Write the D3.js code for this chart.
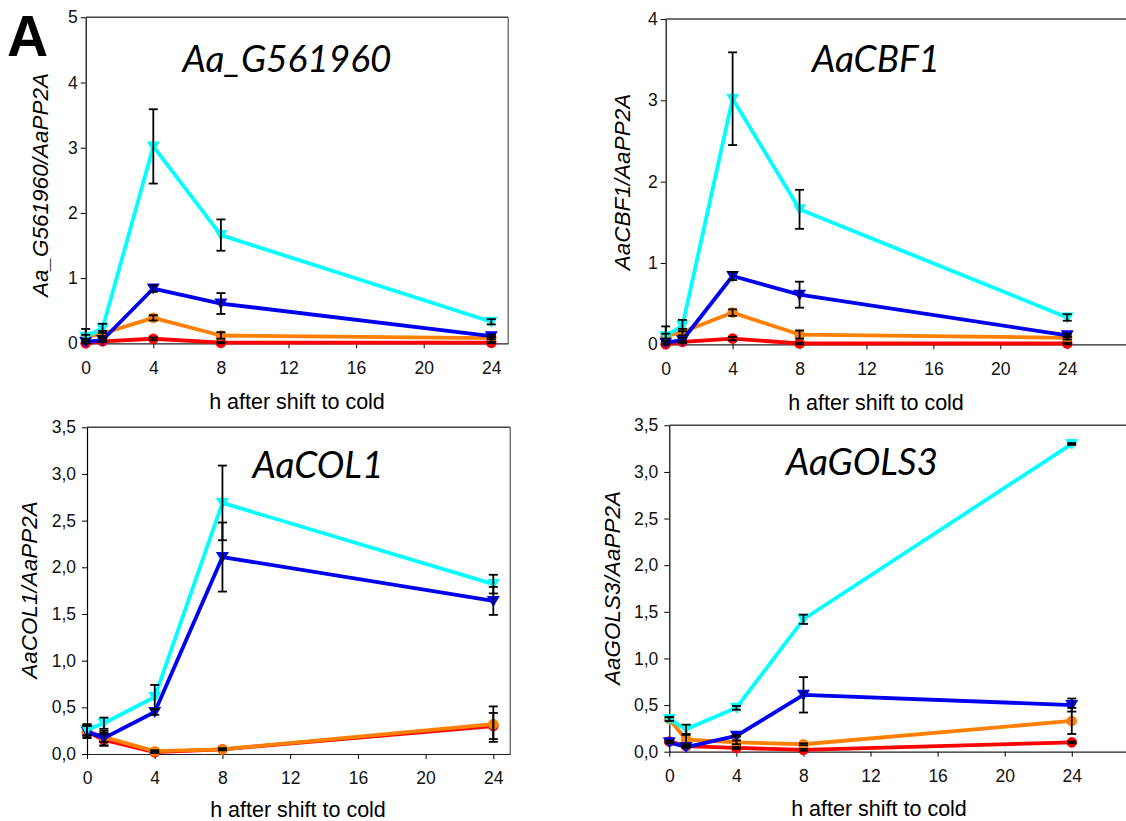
<!DOCTYPE html>
<html>
<head>
<meta charset="utf-8">
<script src="https://cdn.jsdelivr.net/npm/d3@7"></script>
<style>
  body { margin: 0; background: #fff; }
  svg { display: block; }
  .tick text { font-family: "Liberation Sans", Arial, sans-serif; font-size: 17.5px; fill: #111; }
</style>
</head>
<body>
<div id="figure"></div>
<script>
//Time points (h after shift to cold)
const hours = [0, 1, 4, 8, 24];
const xTicks = [0, 4, 8, 12, 16, 20, 24];

//Aa_G561960
const g561960_red = [0.00, 0.03, 0.07, 0.01, 0.01];
const g561960_redErr = [0.01, 0.01, 0.02, 0.01, 0.01];
const g561960_orange = [0.10, 0.15, 0.39, 0.12, 0.08];
const g561960_orangeErr = [0.03, 0.04, 0.04, 0.05, 0.02];
const g561960_blue = [0.02, 0.05, 0.84, 0.61, 0.11];
const g561960_blueErr = [0.02, 0.03, 0.05, 0.16, 0.02];
const g561960_cyan = [0.10, 0.23, 3.02, 1.66, 0.33];
const g561960_cyanErr = [0.12, 0.07, 0.57, 0.24, 0.04];

//AaCBF1
const cbf1_red = [0.00, 0.03, 0.07, 0.01, 0.01];
const cbf1_redErr = [0.01, 0.01, 0.02, 0.01, 0.01];
const cbf1_orange = [0.10, 0.15, 0.39, 0.12, 0.08];
const cbf1_orangeErr = [0.03, 0.04, 0.04, 0.05, 0.02];
const cbf1_blue = [0.02, 0.05, 0.84, 0.61, 0.11];
const cbf1_blueErr = [0.02, 0.03, 0.05, 0.16, 0.02];
const cbf1_cyan = [0.10, 0.23, 3.02, 1.66, 0.33];
const cbf1_cyanErr = [0.12, 0.07, 0.57, 0.24, 0.04];

//AaCOL1
const col1_red = [0.24, 0.15, 0.02, 0.05, 0.30];
const col1_redErr = [0.06, 0.06, 0.01, 0.01, 0.14];
const col1_orange = [0.25, 0.18, 0.03, 0.05, 0.32];
const col1_orangeErr = [0.05, 0.05, 0.01, 0.01, 0.19];
const col1_blue = [0.24, 0.17, 0.45, 2.11, 1.64];
const col1_blueErr = [0.07, 0.08, 0.03, 0.37, 0.15];
const col1_cyan = [0.26, 0.33, 0.61, 2.69, 1.82];
const col1_cyanErr = [0.06, 0.06, 0.13, 0.40, 0.10];

//AaGOLS3
const gols3_red = [0.11, 0.06, 0.04, 0.02, 0.10];
const gols3_redErr = [0.01, 0.01, 0.01, 0.01, 0.01];
const gols3_orange = [0.35, 0.13, 0.10, 0.08, 0.33];
const gols3_orangeErr = [0.02, 0.05, 0.02, 0.01, 0.14];
const gols3_blue = [0.10, 0.05, 0.17, 0.61, 0.50];
const gols3_blueErr = [0.01, 0.01, 0.01, 0.19, 0.07];
const gols3_cyan = [0.35, 0.24, 0.47, 1.42, 3.30];
const gols3_cyanErr = [0.02, 0.05, 0.02, 0.05, 0.01];

//Y ticks
const yTicksInt5 = [0, 1, 2, 3, 4, 5];
const yTicksInt4 = [0, 1, 2, 3, 4];
const yTicksHalf = [0, 0.5, 1, 1.5, 2, 2.5, 3, 3.5];

//Series styles
const COLORS = { red: "#ff0000", orange: "#ff8000", blue: "#0000f0", cyan: "#00ffff" };
const SHAPES = { red: "circle", orange: "circle", blue: "tri", cyan: "tri" };

//////////////////////////////////////////////////

const W = 1126, H = 821;
const svg = d3.select("#figure").append("svg").attr("width", W).attr("height", H);
svg.append("rect").attr("width", W).attr("height", H).attr("fill", "#fff");

const commaFmt = d => d3.format(".1f")(d).replace(".", ",");

//Panel layout
const panels = [
  { title: "Aa_G561960", ylab: "Aa_G561960/AaPP2A",
    left: 85.7, unit: 16.9, xMax: 25, top: 17.3, bottom: 343.3, yMax: 5, yTicks: yTicksInt5, fmt: d3.format("d"), pad: 3, rightBorder: true,
    titleX: 287, titleY: 72, ylabX: 40, ylabY: 185, xlabX: 297, xlabY: 409,
    series: { red: [g561960_red, g561960_redErr], orange: [g561960_orange, g561960_orangeErr], blue: [g561960_blue, g561960_blueErr], cyan: [g561960_cyan, g561960_cyanErr] } },
  { title: "AaCBF1", ylab: "AaCBF1/AaPP2A",
    left: 665.7, unit: 16.73, xMax: 28, top: 19, bottom: 344.3, yMax: 4, yTicks: yTicksInt4, fmt: d3.format("d"), pad: 3, rightBorder: false,
    titleX: 876, titleY: 72, ylabX: 622, ylabY: 182, xlabX: 876, xlabY: 410,
    series: { red: [cbf1_red, cbf1_redErr], orange: [cbf1_orange, cbf1_orangeErr], blue: [cbf1_blue, cbf1_blueErr], cyan: [cbf1_cyan, cbf1_cyanErr] } },
  { title: "AaCOL1", ylab: "AaCOL1/AaPP2A",
    left: 87, unit: 16.93, xMax: 25, top: 427.3, bottom: 754, yMax: 3.5, yTicks: yTicksHalf, fmt: commaFmt, pad: 6, rightBorder: true,
    titleX: 318, titleY: 478, ylabX: 29, ylabY: 590, xlabX: 298, xlabY: 817,
    series: { red: [col1_red, col1_redErr], orange: [col1_orange, col1_orangeErr], blue: [col1_blue, col1_blueErr], cyan: [col1_cyan, col1_cyanErr] } },
  { title: "AaGOLS3", ylab: "AaGOLS3/AaPP2A",
    left: 669.3, unit: 16.77, xMax: 28, top: 425.3, bottom: 751.7, yMax: 3.5, yTicks: yTicksHalf, fmt: commaFmt, pad: 6, rightBorder: false,
    titleX: 862, titleY: 475, ylabX: 612, ylabY: 588, xlabX: 879, xlabY: 816,
    series: { red: [gols3_red, gols3_redErr], orange: [gols3_orange, gols3_orangeErr], blue: [gols3_blue, gols3_blueErr], cyan: [gols3_cyan, gols3_cyanErr] } }
];

function drawPanel(p) {
  const g = svg.append("g");
  const x = d3.scaleLinear().domain([0, p.xMax]).range([p.left, p.left + p.xMax * p.unit]);
  const y = d3.scaleLinear().domain([0, p.yMax]).range([p.bottom, p.top]);
  const xEnd = x(p.xMax);

  //Frame (top and right)
  g.append("line").attr("x1", p.left).attr("x2", xEnd).attr("y1", p.top).attr("y2", p.top)
    .attr("stroke", "#444").attr("stroke-width", 1.5);
  if (p.rightBorder) {
    g.append("line").attr("x1", xEnd).attr("x2", xEnd).attr("y1", p.top).attr("y2", p.bottom)
      .attr("stroke", "#555").attr("stroke-width", 1.2);
  }

  //Axes
  g.append("g").attr("transform", "translate(0," + p.bottom + ")")
    .call(d3.axisBottom(x).tickValues(xTicks).tickSize(5).tickSizeOuter(0).tickPadding(13).tickFormat(d3.format("d")))
    .call(a => a.select(".domain").attr("stroke", "#222").attr("stroke-width", 1.2));
  g.append("g").attr("transform", "translate(" + p.left + ",0)")
    .call(d3.axisLeft(y).tickValues(p.yTicks).tickSize(5).tickSizeOuter(0).tickPadding(p.pad).tickFormat(p.fmt))
    .call(a => a.select(".domain").attr("stroke", "#000").attr("stroke-width", 1.2));

  //Series: lines and markers
  const line = d3.line().x((d, i) => x(hours[i])).y(d => y(d));
  const order = ["red", "orange", "blue", "cyan"];
  order.forEach(function(key) {
    const vals = p.series[key][0];
    g.append("path").attr("d", line(vals)).attr("fill", "none")
      .attr("stroke", COLORS[key]).attr("stroke-width", 3.8).attr("stroke-linejoin", "round");
    vals.forEach(function(v, i) {
      const cx = x(hours[i]), cy = y(v);
      if (SHAPES[key] == "circle") {
        g.append("circle").attr("cx", cx).attr("cy", cy).attr("r", 5.3).attr("fill", COLORS[key]);
      } else {
        g.append("path").attr("d", "M" + (cx - 6.5) + "," + (cy - 5) + "L" + (cx + 6.5) + "," + (cy - 5) + "L" + cx + "," + (cy + 6) + "Z")
          .attr("fill", COLORS[key]);
      }
    });
  });

  //Error bars
  order.forEach(function(key) {
    const vals = p.series[key][0], errs = p.series[key][1];
    vals.forEach(function(v, i) {
      const cx = x(hours[i]);
      const y1 = y(v + errs[i]), y0 = y(Math.max(0, v - errs[i]));
      g.append("line").attr("x1", cx).attr("x2", cx).attr("y1", y1).attr("y2", y0).attr("stroke", "#000").attr("stroke-width", 1.8);
      [y1, y0].forEach(function(yy) {
        g.append("line").attr("x1", cx - 4.5).attr("x2", cx + 4.5).attr("y1", yy).attr("y2", yy).attr("stroke", "#000").attr("stroke-width", 1.8);
      });
    });
  });

  //Texts
  g.append("text").attr("x", p.titleX).attr("y", p.titleY).attr("text-anchor", "middle")
    .style("font-family", "Lato, 'Open Sans', sans-serif").style("font-style", "italic").style("font-size", "37px")
    .text(p.title);
  g.append("text").attr("transform", "translate(" + (p.ylabX + 8) + "," + p.ylabY + ") rotate(-90)").attr("text-anchor", "middle")
    .style("font-family", "'Liberation Sans', Arial, sans-serif").style("font-style", "italic").style("font-size", "22.5px")
    .text(p.ylab);
  g.append("text").attr("x", p.xlabX).attr("y", p.xlabY).attr("text-anchor", "middle")
    .style("font-family", "'Liberation Sans', Arial, sans-serif").style("font-size", "21.5px")
    .text("h after shift to cold");
}

panels.forEach(drawPanel);

//Panel letter
svg.append("text").attr("x", 7).attr("y", 56)
  .style("font-family", "'Liberation Sans', Arial, sans-serif").style("font-weight", "bold").style("font-size", "57px")
  .text("A");
</script>
</body>
</html>
